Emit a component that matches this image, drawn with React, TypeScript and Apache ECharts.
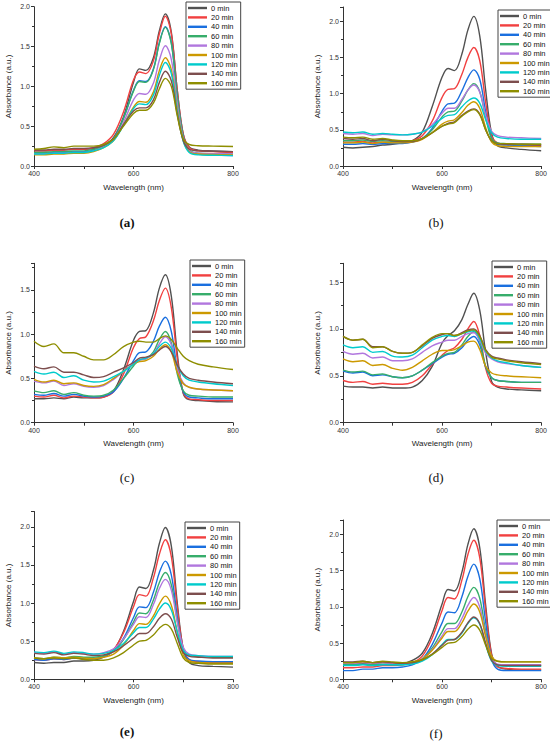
import React, { useEffect, useRef } from "react";
import * as echarts from "echarts";

const WAVELENGTHS = [400, 420, 440, 460, 480, 500, 520, 540, 560, 580, 600, 612, 625, 640, 652, 664, 676, 688, 700, 712, 730, 760, 800];
const TIMES = ["0 min", "20 min", "40 min", "60 min", "80 min", "100 min", "120 min", "140 min", "160 min"];
const COLORS = ["#515151", "#F14040", "#1A6FDF", "#37AD6B", "#B177DE", "#CC9900", "#00CBCC", "#7D4E4E", "#8E8E00"];
const PANEL_LABELS = ["(a)", "(b)", "(c)", "(d)", "(e)", "(f)"];
const Y_MAX = [2.0, 2.2, 1.8, 1.7, 2.2, 2.2];

const panelA = [
  [0.19, 0.19, 0.20, 0.20, 0.21, 0.21, 0.22, 0.26, 0.36, 0.62, 1.05, 1.22, 1.20, 1.36, 1.70, 1.91, 1.68, 0.95, 0.40, 0.24, 0.20, 0.19, 0.18],
  [0.19, 0.19, 0.20, 0.20, 0.21, 0.21, 0.23, 0.28, 0.40, 0.68, 1.08, 1.18, 1.16, 1.32, 1.66, 1.88, 1.66, 0.95, 0.40, 0.23, 0.19, 0.18, 0.17],
  [0.16, 0.16, 0.17, 0.17, 0.18, 0.18, 0.20, 0.25, 0.34, 0.60, 0.95, 1.07, 1.06, 1.22, 1.55, 1.75, 1.55, 0.88, 0.37, 0.19, 0.15, 0.14, 0.13],
  [0.17, 0.17, 0.18, 0.18, 0.19, 0.19, 0.21, 0.25, 0.34, 0.60, 0.94, 1.06, 1.05, 1.21, 1.54, 1.74, 1.54, 0.88, 0.37, 0.20, 0.16, 0.155, 0.15],
  [0.15, 0.15, 0.16, 0.16, 0.17, 0.17, 0.19, 0.24, 0.33, 0.55, 0.83, 0.91, 0.90, 1.04, 1.33, 1.51, 1.34, 0.78, 0.34, 0.19, 0.16, 0.155, 0.15],
  [0.14, 0.14, 0.15, 0.15, 0.16, 0.16, 0.18, 0.23, 0.32, 0.52, 0.74, 0.81, 0.80, 0.93, 1.20, 1.36, 1.21, 0.71, 0.32, 0.18, 0.15, 0.145, 0.14],
  [0.15, 0.15, 0.16, 0.16, 0.17, 0.17, 0.19, 0.23, 0.32, 0.51, 0.72, 0.78, 0.77, 0.89, 1.14, 1.30, 1.16, 0.68, 0.31, 0.17, 0.14, 0.135, 0.13],
  [0.20, 0.20, 0.21, 0.21, 0.22, 0.22, 0.23, 0.26, 0.34, 0.52, 0.69, 0.73, 0.73, 0.83, 1.05, 1.19, 1.07, 0.65, 0.32, 0.21, 0.19, 0.185, 0.18],
  [0.21, 0.22, 0.24, 0.23, 0.25, 0.25, 0.25, 0.27, 0.34, 0.50, 0.66, 0.70, 0.70, 0.79, 0.97, 1.10, 1.00, 0.63, 0.34, 0.27, 0.255, 0.25, 0.245],
];

const panelB = [
  [0.26, 0.25, 0.26, 0.27, 0.29, 0.30, 0.32, 0.35, 0.47, 0.82, 1.23, 1.35, 1.32, 1.55, 1.88, 2.07, 1.80, 1.05, 0.45, 0.28, 0.25, 0.23, 0.21],
  [0.33, 0.33, 0.34, 0.32, 0.33, 0.33, 0.33, 0.35, 0.42, 0.62, 0.95, 1.06, 1.07, 1.27, 1.50, 1.64, 1.46, 0.88, 0.42, 0.32, 0.30, 0.29, 0.28],
  [0.30, 0.30, 0.31, 0.30, 0.31, 0.31, 0.31, 0.33, 0.38, 0.52, 0.76, 0.86, 0.87, 1.04, 1.22, 1.33, 1.20, 0.75, 0.38, 0.30, 0.29, 0.28, 0.27],
  [0.35, 0.35, 0.36, 0.34, 0.35, 0.34, 0.33, 0.34, 0.38, 0.50, 0.68, 0.75, 0.76, 0.90, 1.05, 1.14, 1.03, 0.67, 0.38, 0.32, 0.31, 0.30, 0.30],
  [0.45, 0.44, 0.45, 0.42, 0.44, 0.43, 0.43, 0.44, 0.47, 0.57, 0.73, 0.80, 0.80, 0.92, 1.05, 1.12, 1.02, 0.70, 0.48, 0.42, 0.40, 0.39, 0.38],
  [0.32, 0.32, 0.33, 0.31, 0.33, 0.32, 0.32, 0.33, 0.37, 0.46, 0.58, 0.62, 0.64, 0.74, 0.84, 0.89, 0.80, 0.53, 0.33, 0.28, 0.27, 0.27, 0.27],
  [0.47, 0.46, 0.47, 0.44, 0.45, 0.44, 0.43, 0.44, 0.47, 0.55, 0.66, 0.70, 0.71, 0.82, 0.90, 0.94, 0.87, 0.64, 0.46, 0.40, 0.38, 0.37, 0.37],
  [0.38, 0.37, 0.38, 0.35, 0.37, 0.35, 0.34, 0.34, 0.38, 0.46, 0.55, 0.59, 0.61, 0.70, 0.76, 0.79, 0.72, 0.50, 0.35, 0.31, 0.30, 0.30, 0.29],
  [0.40, 0.39, 0.40, 0.37, 0.38, 0.36, 0.35, 0.35, 0.38, 0.46, 0.55, 0.58, 0.60, 0.69, 0.75, 0.78, 0.71, 0.50, 0.35, 0.31, 0.31, 0.30, 0.30],
];

const panelC = [
  [0.27, 0.27, 0.28, 0.27, 0.29, 0.28, 0.28, 0.29, 0.36, 0.60, 0.93, 1.03, 1.04, 1.24, 1.52, 1.67, 1.43, 0.78, 0.33, 0.26, 0.25, 0.24, 0.235],
  [0.30, 0.29, 0.31, 0.28, 0.30, 0.29, 0.28, 0.29, 0.35, 0.55, 0.85, 0.95, 0.97, 1.15, 1.38, 1.52, 1.30, 0.72, 0.34, 0.27, 0.26, 0.25, 0.25],
  [0.32, 0.31, 0.33, 0.30, 0.32, 0.30, 0.29, 0.30, 0.35, 0.50, 0.70, 0.79, 0.80, 0.92, 1.09, 1.19, 1.03, 0.60, 0.35, 0.29, 0.28, 0.27, 0.27],
  [0.36, 0.34, 0.36, 0.32, 0.34, 0.31, 0.30, 0.31, 0.37, 0.50, 0.64, 0.71, 0.72, 0.80, 0.94, 1.03, 0.90, 0.55, 0.36, 0.31, 0.30, 0.29, 0.29],
  [0.47, 0.45, 0.47, 0.42, 0.44, 0.41, 0.40, 0.42, 0.49, 0.58, 0.67, 0.71, 0.72, 0.78, 0.89, 0.97, 0.88, 0.60, 0.45, 0.40, 0.38, 0.37, 0.36],
  [0.49, 0.46, 0.48, 0.44, 0.45, 0.42, 0.41, 0.43, 0.50, 0.58, 0.66, 0.69, 0.70, 0.75, 0.83, 0.88, 0.80, 0.57, 0.44, 0.40, 0.38, 0.37, 0.36],
  [0.58, 0.55, 0.57, 0.51, 0.53, 0.48, 0.46, 0.47, 0.52, 0.58, 0.66, 0.71, 0.73, 0.78, 0.86, 0.91, 0.84, 0.65, 0.53, 0.48, 0.46, 0.44, 0.42],
  [0.64, 0.61, 0.63, 0.57, 0.57, 0.54, 0.51, 0.52, 0.57, 0.62, 0.68, 0.73, 0.74, 0.77, 0.82, 0.86, 0.80, 0.65, 0.55, 0.50, 0.48, 0.46, 0.44],
  [0.92, 0.86, 0.89, 0.79, 0.79, 0.75, 0.71, 0.71, 0.77, 0.86, 0.91, 0.92, 0.91, 0.91, 0.95, 0.98, 0.94, 0.84, 0.75, 0.70, 0.66, 0.63, 0.60],
];

const panelD = [
  [0.39, 0.38, 0.38, 0.37, 0.38, 0.37, 0.37, 0.38, 0.45, 0.60, 0.85, 0.93, 0.98, 1.10, 1.26, 1.38, 1.20, 0.75, 0.44, 0.38, 0.36, 0.35, 0.34],
  [0.45, 0.43, 0.44, 0.41, 0.42, 0.41, 0.41, 0.43, 0.50, 0.62, 0.72, 0.77, 0.80, 0.89, 1.00, 1.08, 0.93, 0.58, 0.42, 0.39, 0.38, 0.37, 0.36],
  [0.55, 0.53, 0.54, 0.50, 0.51, 0.49, 0.48, 0.50, 0.56, 0.63, 0.70, 0.73, 0.74, 0.80, 0.88, 0.92, 0.83, 0.59, 0.48, 0.45, 0.44, 0.43, 0.43],
  [0.56, 0.54, 0.55, 0.51, 0.52, 0.49, 0.48, 0.50, 0.56, 0.64, 0.71, 0.74, 0.75, 0.83, 0.92, 0.97, 0.87, 0.60, 0.48, 0.45, 0.44, 0.43, 0.43],
  [0.76, 0.73, 0.74, 0.69, 0.70, 0.66, 0.66, 0.68, 0.75, 0.82, 0.86, 0.88, 0.88, 0.92, 0.95, 0.96, 0.88, 0.74, 0.68, 0.65, 0.63, 0.61, 0.59],
  [0.68, 0.65, 0.66, 0.61, 0.62, 0.58, 0.56, 0.59, 0.66, 0.73, 0.77, 0.77, 0.78, 0.82, 0.86, 0.87, 0.78, 0.60, 0.53, 0.51, 0.50, 0.49, 0.48],
  [0.83, 0.80, 0.81, 0.75, 0.76, 0.71, 0.70, 0.72, 0.80, 0.88, 0.92, 0.93, 0.92, 0.95, 0.97, 0.98, 0.90, 0.76, 0.69, 0.66, 0.64, 0.61, 0.59],
  [0.92, 0.88, 0.89, 0.81, 0.81, 0.76, 0.74, 0.75, 0.82, 0.90, 0.94, 0.95, 0.93, 0.96, 0.99, 1.00, 0.93, 0.78, 0.71, 0.69, 0.67, 0.65, 0.63],
  [0.92, 0.88, 0.89, 0.80, 0.81, 0.76, 0.74, 0.75, 0.83, 0.91, 0.95, 0.95, 0.93, 0.95, 0.98, 0.99, 0.92, 0.77, 0.70, 0.68, 0.66, 0.64, 0.62],
];

const panelE = [
  [0.22, 0.21, 0.22, 0.22, 0.24, 0.24, 0.25, 0.29, 0.38, 0.63, 1.02, 1.21, 1.19, 1.43, 1.78, 1.99, 1.75, 1.00, 0.40, 0.22, 0.18, 0.17, 0.16],
  [0.26, 0.25, 0.27, 0.26, 0.28, 0.27, 0.27, 0.30, 0.39, 0.61, 0.95, 1.11, 1.09, 1.33, 1.64, 1.83, 1.61, 0.94, 0.40, 0.26, 0.23, 0.22, 0.22],
  [0.26, 0.25, 0.27, 0.26, 0.28, 0.27, 0.27, 0.30, 0.37, 0.54, 0.81, 0.95, 0.94, 1.14, 1.40, 1.55, 1.37, 0.82, 0.38, 0.26, 0.24, 0.23, 0.23],
  [0.28, 0.27, 0.29, 0.28, 0.30, 0.29, 0.29, 0.31, 0.37, 0.52, 0.75, 0.87, 0.86, 1.04, 1.27, 1.40, 1.24, 0.77, 0.40, 0.31, 0.30, 0.29, 0.29],
  [0.35, 0.34, 0.36, 0.33, 0.35, 0.34, 0.33, 0.35, 0.40, 0.53, 0.72, 0.82, 0.81, 0.98, 1.19, 1.31, 1.17, 0.75, 0.42, 0.33, 0.31, 0.30, 0.30],
  [0.28, 0.27, 0.29, 0.28, 0.29, 0.28, 0.27, 0.29, 0.33, 0.45, 0.64, 0.73, 0.72, 0.83, 0.99, 1.09, 0.97, 0.62, 0.32, 0.24, 0.22, 0.21, 0.21],
  [0.36, 0.35, 0.37, 0.34, 0.36, 0.35, 0.33, 0.34, 0.38, 0.47, 0.61, 0.68, 0.68, 0.79, 0.92, 1.00, 0.91, 0.62, 0.38, 0.32, 0.31, 0.30, 0.30],
  [0.34, 0.33, 0.35, 0.32, 0.34, 0.33, 0.31, 0.32, 0.36, 0.44, 0.54, 0.60, 0.60, 0.69, 0.80, 0.86, 0.79, 0.55, 0.35, 0.30, 0.29, 0.28, 0.28],
  [0.28, 0.27, 0.28, 0.27, 0.28, 0.26, 0.25, 0.25, 0.28, 0.35, 0.45, 0.50, 0.51, 0.58, 0.67, 0.72, 0.66, 0.47, 0.28, 0.22, 0.21, 0.20, 0.20],
];

const panelF = [
  [0.21, 0.21, 0.22, 0.21, 0.23, 0.22, 0.22, 0.26, 0.36, 0.63, 1.04, 1.24, 1.22, 1.48, 1.86, 2.08, 1.82, 1.02, 0.35, 0.18, 0.14, 0.13, 0.13],
  [0.16, 0.16, 0.17, 0.17, 0.19, 0.19, 0.20, 0.23, 0.32, 0.57, 0.95, 1.13, 1.11, 1.37, 1.72, 1.92, 1.68, 0.95, 0.33, 0.17, 0.15, 0.14, 0.14],
  [0.12, 0.12, 0.14, 0.14, 0.16, 0.16, 0.17, 0.20, 0.28, 0.48, 0.78, 0.93, 0.92, 1.14, 1.42, 1.59, 1.39, 0.79, 0.28, 0.14, 0.12, 0.12, 0.12],
  [0.20, 0.20, 0.21, 0.20, 0.21, 0.20, 0.20, 0.22, 0.28, 0.43, 0.66, 0.77, 0.77, 0.93, 1.14, 1.27, 1.12, 0.66, 0.29, 0.20, 0.19, 0.19, 0.19],
  [0.22, 0.22, 0.23, 0.22, 0.23, 0.22, 0.21, 0.23, 0.28, 0.41, 0.60, 0.70, 0.70, 0.84, 1.02, 1.13, 1.00, 0.61, 0.30, 0.21, 0.20, 0.20, 0.20],
  [0.23, 0.23, 0.24, 0.23, 0.24, 0.23, 0.22, 0.24, 0.28, 0.40, 0.57, 0.66, 0.66, 0.78, 0.94, 1.04, 0.93, 0.59, 0.32, 0.25, 0.24, 0.24, 0.24],
  [0.19, 0.19, 0.20, 0.19, 0.20, 0.20, 0.20, 0.21, 0.25, 0.34, 0.48, 0.55, 0.55, 0.64, 0.77, 0.85, 0.76, 0.48, 0.25, 0.19, 0.18, 0.18, 0.18],
  [0.24, 0.24, 0.25, 0.23, 0.24, 0.23, 0.22, 0.23, 0.27, 0.35, 0.47, 0.54, 0.55, 0.65, 0.78, 0.86, 0.77, 0.50, 0.26, 0.20, 0.19, 0.19, 0.19],
  [0.23, 0.23, 0.25, 0.23, 0.25, 0.24, 0.23, 0.24, 0.27, 0.34, 0.44, 0.50, 0.51, 0.59, 0.69, 0.75, 0.68, 0.47, 0.29, 0.25, 0.24, 0.24, 0.24],
];

const PANELS = [panelA, panelB, panelC, panelD, panelE, panelF];

// layout (pixels)
const GRIDS = [
  { left: 34, top: 6.7, width: 199, height: 159.3 },
  { left: 343, top: 7, width: 199, height: 159 },
  { left: 34, top: 263.3, width: 199, height: 159.4 },
  { left: 343, top: 263.3, width: 199, height: 159.4 },
  { left: 34, top: 511.5, width: 199, height: 167.8 },
  { left: 343, top: 520, width: 199, height: 159.3 },
];
const LEGEND_POS = [
  { left: 186, top: 2 },
  { left: 498, top: 10 },
  { left: 190, top: 260 },
  { left: 492, top: 261 },
  { left: 185, top: 522 },
  { left: 497, top: 520 },
];
const LABEL_POS = [
  { x: 127, y: 222, bold: true },
  { x: 436, y: 222, bold: false },
  { x: 127, y: 477, bold: false },
  { x: 436, y: 477, bold: false },
  { x: 127, y: 731, bold: true },
  { x: 436, y: 733, bold: false },
];

const FONT = "'Liberation Sans', Arial, sans-serif";

export default function App() {
  const ref = useRef<HTMLDivElement>(null);
  useEffect(() => {
    if (!ref.current) return;
    const chart = echarts.init(ref.current, undefined, { renderer: "svg" });
    const grid: any[] = [];
    const xAxis: any[] = [];
    const yAxis: any[] = [];
    const series: any[] = [];
    const legend: any[] = [];
    const graphic: any[] = [];
    PANELS.forEach((panel, p) => {
      grid.push({ ...GRIDS[p], containLabel: false });
      xAxis.push({
        gridIndex: p,
        type: "value",
        min: 400,
        max: 800,
        interval: 200,
        name: "Wavelength (nm)",
        nameLocation: "middle",
        nameGap: 17,
        nameTextStyle: { fontFamily: FONT, fontSize: 8, color: "#222" },
        axisLine: { show: true, onZero: false, lineStyle: { color: "#333", width: 1 } },
        axisTick: { show: true, length: 3, lineStyle: { color: "#333" } },
        minorTick: { show: true, splitNumber: 2, length: 3, lineStyle: { color: "#333" } },
        axisLabel: { fontFamily: FONT, fontSize: 7, color: "#333", margin: 4 },
        splitLine: { show: false },
      });
      yAxis.push({
        gridIndex: p,
        type: "value",
        min: 0,
        max: Y_MAX[p],
        interval: 0.5,
        name: "Absorbance (a.u.)",
        nameLocation: "middle",
        nameGap: 22,
        nameTextStyle: { fontFamily: FONT, fontSize: 8, color: "#222" },
        axisLine: { show: true, onZero: false, lineStyle: { color: "#333", width: 1 } },
        axisTick: { show: true, length: 3, lineStyle: { color: "#333" } },
        minorTick: { show: true, splitNumber: 2, length: 2, lineStyle: { color: "#333" } },
        axisLabel: {
          fontFamily: FONT,
          fontSize: 7,
          color: "#333",
          margin: 4,
          formatter: (v: number) => (Math.abs(v * 2 - Math.round(v * 2)) < 1e-6 ? v.toFixed(1) : ""),
        },
        splitLine: { show: false },
      });
      panel.forEach((vals, i) => {
        series.push({
          type: "line",
          name: TIMES[i],
          xAxisIndex: p,
          yAxisIndex: p,
          data: WAVELENGTHS.map((w, k) => [w, vals[k]]),
          smooth: 0.35,
          showSymbol: false,
          symbol: "none",
          color: COLORS[i],
          lineStyle: { width: 1.4, color: COLORS[i] },
          z: 2 + i,
        });
      });
      legend.push({
        ...LEGEND_POS[p],
        orient: "vertical",
        data: TIMES.map((t, i) => ({ name: t, icon: "rect", itemStyle: { color: COLORS[i] } })),
        itemWidth: 19,
        itemHeight: 2.4,
        itemGap: 1.4,
        borderColor: "#444",
        borderWidth: 1,
        padding: [2, 3, 2, 2],
        selectedMode: false,
        textStyle: { fontFamily: FONT, fontSize: 7.5, color: "#111", lineHeight: 8, padding: [0, 0, 0, -1] },
      });
      graphic.push({
        type: "text",
        x: LABEL_POS[p].x,
        y: LABEL_POS[p].y,
        style: {
          text: PANEL_LABELS[p],
          fontFamily: "'Liberation Serif', 'Times New Roman', serif",
          fontSize: 13,
          fontWeight: LABEL_POS[p].bold ? "bold" : "normal",
          fill: "#111",
          align: "center",
          verticalAlign: "middle",
        },
      });
    });
    chart.setOption({
      animation: false,
      backgroundColor: "#fff",
      grid,
      xAxis,
      yAxis,
      series,
      legend,
      graphic,
    });
    return () => chart.dispose();
  }, []);
  return (
    <div
      ref={ref}
      style={{ position: "absolute", left: 0, top: 0, width: 550, height: 747, background: "#fff" }}
    />
  );
}
